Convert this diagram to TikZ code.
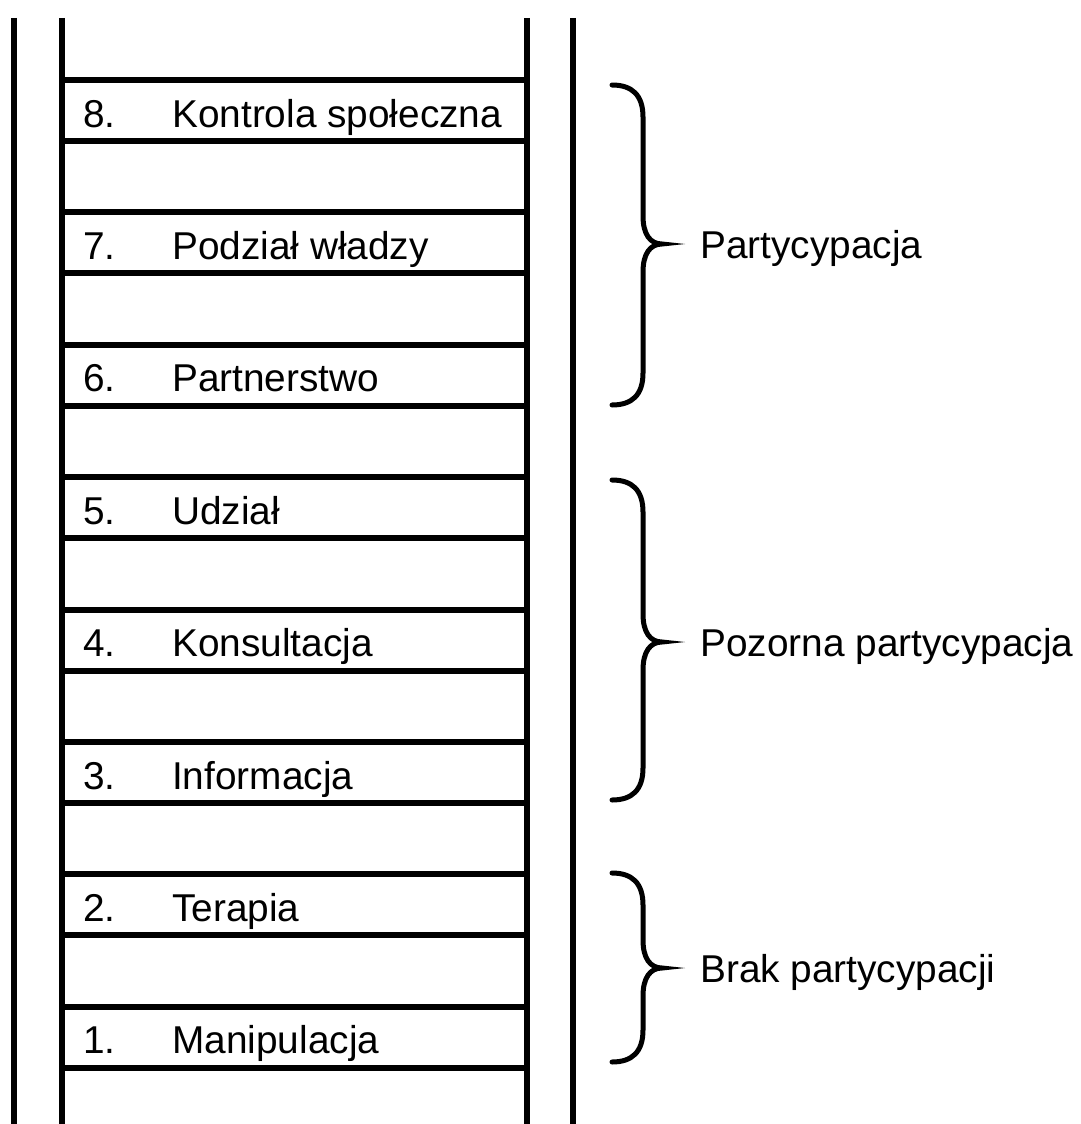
\documentclass[tikz,border=0pt]{standalone}
\usepackage{fontspec}
\setmainfont{Liberation Sans}
\begin{document}
\begin{tikzpicture}[x=1pt,y=-1pt,
  rail/.style={line width=6pt},
  rung/.style={line width=6pt},
  brc/.style={line width=5pt,line cap=round},
  lbl/.style={anchor=base west,inner sep=0pt,font=\fontsize{38.8}{46}\selectfont},
  grp/.style={anchor=base west,inner sep=0pt,font=\fontsize{38.8}{46}\selectfont}]
\useasboundingbox (0,0) rectangle (1080,1124);
\fill[white] (0,0) rectangle (1080,1124);
% rails
\draw[rail] (14,18) -- (14,1124);
\draw[rail] (62,18) -- (62,1124);
\draw[rail] (527,18) -- (527,1124);
\draw[rail] (573,18) -- (573,1124);
% rungs and labels
\foreach \k/\name in {8/Kontrola społeczna,7/Podział władzy,6/Partnerstwo,5/Udział,4/Konsultacja,3/Informacja,2/Terapia,1/Manipulacja}{
  \pgfmathsetmacro{\t}{80+(8-\k)*132.4}
  \draw[rung] (62,\t) -- (527,\t);
  \draw[rung] ({62},{\t+61}) -- ({527},{\t+61});
  \node[lbl] (n\k) at ({83},{\t+47}) {\k.};
  \node[lbl] (l\k) at ({172},{\t+47}) {\name};
}
% braces
\newcommand\mybrace[3]{%
  \draw[brc] (612,#1) .. controls (632,#1) and (643,{#1+10}) .. (643,{#1+32})
    -- (643,{#3-28}) .. controls (643,{#3-10}) and (650,#3) .. (662,#3)
    .. controls (650,#3) and (643,{#3+10}) .. (643,{#3+28})
    -- (643,{#2-32}) .. controls (643,{#2-10}) and (632,#2) .. (612,#2);}
\mybrace{85}{405}{244}
\mybrace{480}{800}{642}
\mybrace{873}{1062}{968}
\node[grp] (g1) at (700,258) {Partycypacja};
\node[grp] (g2) at (700,656) {Pozorna partycypacja};
\node[grp] (g3) at (700,982) {Brak partycypacji};
\end{tikzpicture}
\end{document}
